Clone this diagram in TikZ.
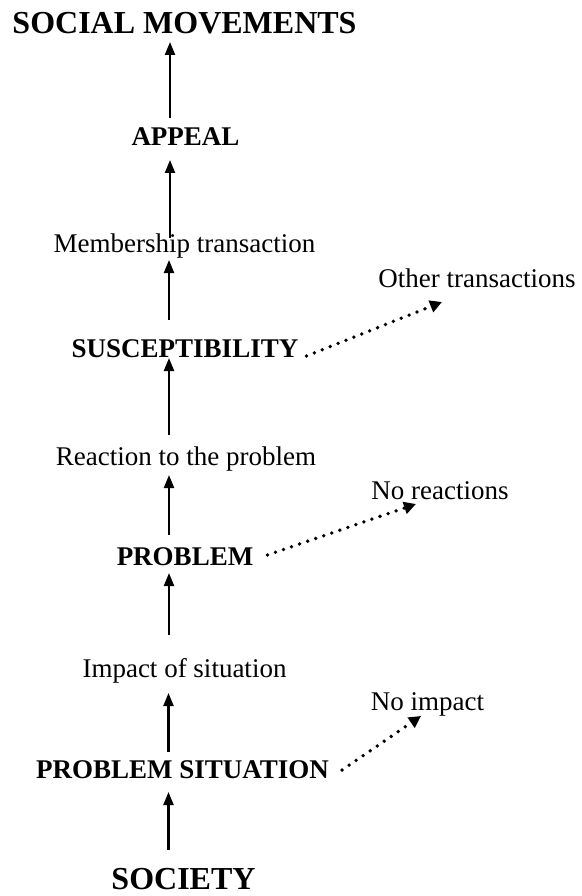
\documentclass[tikz,border=0pt]{standalone}
\usepackage{fontspec}
\setmainfont{Liberation Serif}
\usetikzlibrary{arrows.meta,calc}
\begin{document}
\begin{tikzpicture}[x=1pt,y=-1pt,
  lbl/.style={anchor=base,inner sep=0pt,font=\fontsize{27}{30}\selectfont},
  blbl/.style={lbl,font=\fontsize{27}{30}\selectfont\bfseries},
  big/.style={lbl,font=\fontsize{32}{36}\selectfont\bfseries},
  arr/.style={line width=2.2pt,-{Triangle[width=10pt,length=13pt]}},
  dotarr/.style={line width=3.8pt,line cap=round,dash pattern=on 0pt off 8.5pt,
    -{Triangle[width=12pt,length=12pt]}}]
\useasboundingbox (0,0) rectangle (581,896);
\coordinate (spine) at (169,0);
\node[big]  (sm)    at (184.5,34)  {SOCIAL MOVEMENTS};
\node[blbl] (appeal) at (185.5,146) {APPEAL};
\node[lbl]  (memb)  at (184.5,252) {Membership transaction};
\node[blbl] (susc)  at (185,357)   {SUSCEPTIBILITY};
\node[lbl]  (other) at (477,287)   {Other transactions};
\node[lbl]  (reac)  at (186,465)   {Reaction to the problem};
\node[lbl]  (noreac) at (440,499)  {No reactions};
\node[blbl] (prob)  at (185,565)   {PROBLEM};
\node[lbl]  (impact) at (184.5,677) {Impact of situation};
\node[lbl]  (noimp) at (427.5,710) {No impact};
\node[blbl] (ps)    at (182.5,778) {PROBLEM SITUATION};
\node[big]  (soc)   at (183.5,889) {SOCIETY};
% solid arrows
\draw[arr] ($(spine |- appeal.base)+(1,-28)$) -- ($(spine |- sm.base)+(1,8)$);
\draw[arr] ($(spine |- memb.base)+(1,-14)$) -- ($(spine |- appeal.base)+(1,14)$);
\draw[arr] ($(spine |- susc.base)+(0,-37)$) -- ($(spine |- memb.base)+(0,8)$);
\draw[arr] ($(spine |- reac.base)+(0,-30)$) -- ($(spine |- susc.base)+(0,1)$);
\draw[arr] ($(spine |- prob.base)+(0,-30)$) -- ($(spine |- reac.base)+(0,10)$);
\draw[arr] ($(spine |- impact.base)+(0,-42)$) -- ($(spine |- prob.base)+(0,8)$);
\draw[arr] ($(spine |- ps.base)+(-0.5,-26)$) -- ($(spine |- impact.base)+(-0.5,16)$);
\draw[arr] ($(spine |- soc.base)+(-0.5,-39)$) -- ($(spine |- ps.base)+(-0.5,14)$);
% dotted arrows
\draw[dotarr] ($(susc.base east)+(8,-1)$) -- ($(other.base)+(-35,15)$);
\draw[dotarr] ($(prob.base east)+(14,-10)$) -- ($(noreac.base)+(-24,5)$);
\draw[dotarr] ($(ps.base east)+(13,-8)$) -- ($(noimp.base)+(-6.5,6)$);
\end{tikzpicture}
\end{document}
